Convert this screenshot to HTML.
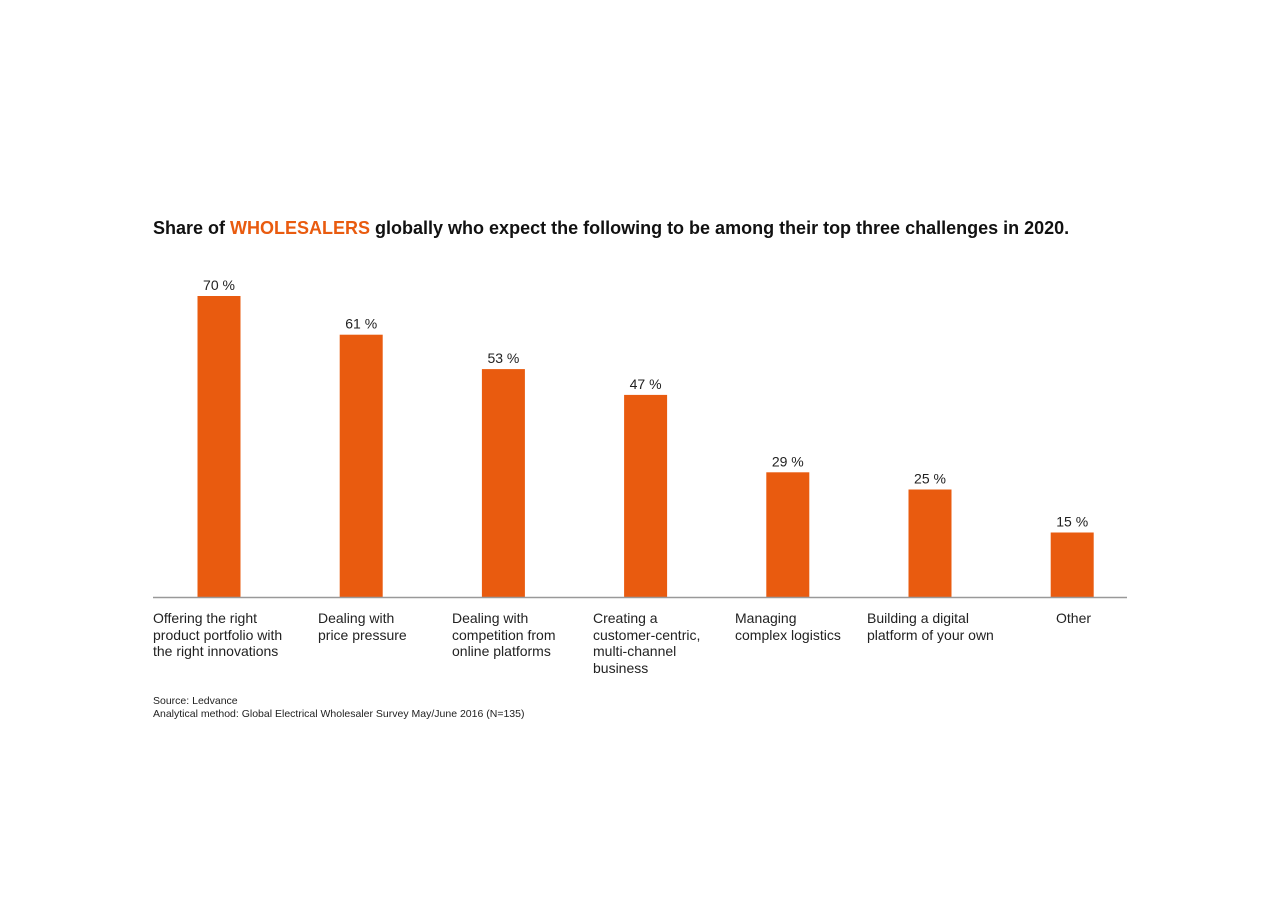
<!DOCTYPE html>
<html><head><meta charset="utf-8"><style>
body{margin:0;width:1280px;height:905px;background:#fff;font-family:"Liberation Sans",Arial,sans-serif;position:relative;overflow:hidden}
.t{position:absolute;left:153px;top:218px;font-size:18px;font-weight:bold;color:#111;white-space:nowrap}
.t span{color:#e95b0f}
.cl{position:absolute;top:610px;font-size:14px;line-height:16.6px;color:#222}
.src{position:absolute;left:153px;top:695px;font-size:10.5px;line-height:13px;color:#222}
</style></head><body>
<div class="t">Share of <span>WHOLESALERS</span> globally who expect the following to be among their top three challenges in 2020.</div>
<svg id="c" width="1280" height="905" style="position:absolute;left:0;top:0"></svg>
<div class="src">Source: Ledvance<br>Analytical method: Global Electrical Wholesaler Survey May/June 2016 (N=135)</div>
<script>
const categories=["Offering the right<br>product portfolio with<br>the right innovations","Dealing with<br>price pressure","Dealing with<br>competition from<br>online platforms","Creating a<br>customer-centric,<br>multi-channel<br>business","Managing<br>complex logistics","Building a digital<br>platform of your own","Other"];
const values=[70,61,53,47,29,25,15];
const labelX=[153,318,452,593,735,867,1056];
const svg=document.getElementById('c');
const NS='http://www.w3.org/2000/svg';
const base=597, scale=4.3, x0=219, step=142.2, bw=43;
const y=v=>base-v*scale;
const xc=i=>x0+i*step;
values.forEach((v,i)=>{
 const r=document.createElementNS(NS,'rect');
 r.setAttribute('x',xc(i)-bw/2);r.setAttribute('y',y(v));r.setAttribute('width',bw);r.setAttribute('height',base-y(v));r.setAttribute('fill','#e95b0f');
 
 
 svg.appendChild(r);
 const t=document.createElementNS(NS,'text');
 t.setAttribute('x',xc(i));t.setAttribute('y',y(v)-6);t.setAttribute('text-anchor','middle');t.setAttribute('font-size','14');t.setAttribute('fill','#222');t.setAttribute('font-family','Liberation Sans, Arial, sans-serif');
 t.textContent=v+' %';
 
 
 svg.appendChild(t);
 const d=document.createElement('div');
 d.className='cl';d.style.left=labelX[i]+'px';d.innerHTML=categories[i];
 
 
 document.body.appendChild(d);
});
const l=document.createElementNS(NS,'line');
l.setAttribute('x1',153);l.setAttribute('x2',1127);l.setAttribute('y1',base+0.5);l.setAttribute('y2',base+0.5);l.setAttribute('stroke','#999');l.setAttribute('stroke-width','1.5');


svg.appendChild(l);
</script>
</body></html>
